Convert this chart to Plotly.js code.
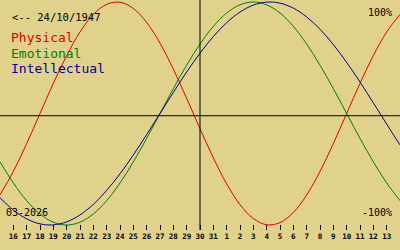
<!DOCTYPE html>
<html>
<head>
<meta charset="utf-8">
<script src="https://cdn.plot.ly/plotly-3.0.1.min.js"></script>
<style>html,body{margin:0;padding:0;background:#e0d28a;}#chart{width:400px;height:250px;}</style>
</head>
<body>
<div id="chart"></div>
<script>
// Day index: 15..31 = March 2026, 32..45 = April 1..14
const days = [15,16,17,18,19,20,21,22,23,24,25,26,27,28,29,30,31,32,33,34,35,36,37,38,39,40,41,42,43,44,45];
const physical = [-0.731,-0.520,-0.270,0,0.270,0.520,0.731,0.888,0.979,0.998,0.942,0.817,0.631,0.398,0.136,-0.136,-0.398,-0.631,-0.817,-0.942,-0.998,-0.979,-0.888,-0.731,-0.520,-0.270,0,0.270,0.520,0.731,0.888];
const emotional = [-0.434,-0.623,-0.782,-0.901,-0.975,-1,-0.975,-0.901,-0.782,-0.623,-0.434,-0.223,0,0.223,0.434,0.623,0.782,0.901,0.975,1,0.975,0.901,0.782,0.623,0.434,0.223,0,-0.223,-0.434,-0.623,-0.782];
const intellectual = [-0.756,-0.866,-0.945,-0.990,-0.999,-0.972,-0.910,-0.815,-0.690,-0.541,-0.372,-0.189,0,0.189,0.372,0.541,0.690,0.815,0.910,0.972,0.999,0.990,0.945,0.866,0.756,0.618,0.458,0.282,0.095,-0.095,-0.282];
const tickVals = [16,17,18,19,20,21,22,23,24,25,26,27,28,29,30,31,32,33,34,35,36,37,38,39,40,41,42,43,44];
const tickText = ["16","17","18","19","20","21","22","23","24","25","26","27","28","29","30","31","1","2","3","4","5","6","7","8","9","10","11","12","13"];
const seriesNames = ["Physical","Emotional","Intellectual"];
const seriesColors = ["#dd0000","#008000","#000099"];
const birthLabel = "<-- 24/10/1947";
const monthLabel = "03-2026";
const todayDay = 30;

const mono = "DejaVu Sans Mono, Liberation Mono, monospace";
const H = 230; // plot height in px
function py(px){ return 1 - px/H; }

const series = [physical, emotional, intellectual];
const traces = series.map((vals,i)=>({
  x: days, y: vals, type:'scatter', mode:'lines',
  line:{color:seriesColors[i], width:1, shape:'spline', smoothing:1},
  hoverinfo:'skip', showlegend:false
}));

const annotations = [
  {text: birthLabel.replace('<','&lt;'), x:10/400, y:py(17), xref:'paper', yref:'paper', xanchor:'left', yanchor:'middle', showarrow:false, font:{family:mono, size:10.5, color:'#000'}},
  {text:'100%', x:394/400, y:py(12), xref:'paper', yref:'paper', xanchor:'right', yanchor:'middle', showarrow:false, font:{family:mono, size:10, color:'#000'}},
  {text:'-100%', x:394/400, y:py(212), xref:'paper', yref:'paper', xanchor:'right', yanchor:'middle', showarrow:false, font:{family:mono, size:10, color:'#000'}},
  {text:monthLabel, x:4/400, y:py(212), xref:'paper', yref:'paper', xanchor:'left', yanchor:'middle', showarrow:false, font:{family:mono, size:10, color:'#000'}}
];
seriesNames.forEach((n,i)=>{
  annotations.push({text:n, x:9/400, y:py(38+15*i), xref:'paper', yref:'paper', xanchor:'left', yanchor:'middle', showarrow:false, font:{family:mono, size:13, color:seriesColors[i]}});
});

const layout = {
  width:400, height:250,
  margin:{l:0,r:0,t:0,b:20,pad:0},
  paper_bgcolor:'#e0d28a', plot_bgcolor:'#e0d28a',
  xaxis:{range:[15,45], tickmode:'array', tickvals:tickVals, ticktext:tickText,
    ticks:'inside', ticklen:5, tickwidth:1, tickcolor:'#000',
    showgrid:false, zeroline:false, showline:false, fixedrange:true,
    tickfont:{family:mono, size:7.5, color:'#000', weight:'bold'}},
  yaxis:{range:[-1.045,1.018], showticklabels:false, ticks:'', showgrid:false, zeroline:false, showline:false, fixedrange:true},
  shapes:[
    {type:'line', xref:'x', yref:'paper', x0:todayDay, x1:todayDay, y0:0, y1:1, line:{color:'#000', width:1}},
    {type:'line', xref:'paper', yref:'y', x0:0, x1:1, y0:-0.02, y1:-0.02, line:{color:'#000', width:1}}
  ],
  annotations: annotations
};
Plotly.newPlot('chart', traces, layout, {displayModeBar:false, staticPlot:true});
</script>
</body>
</html>
